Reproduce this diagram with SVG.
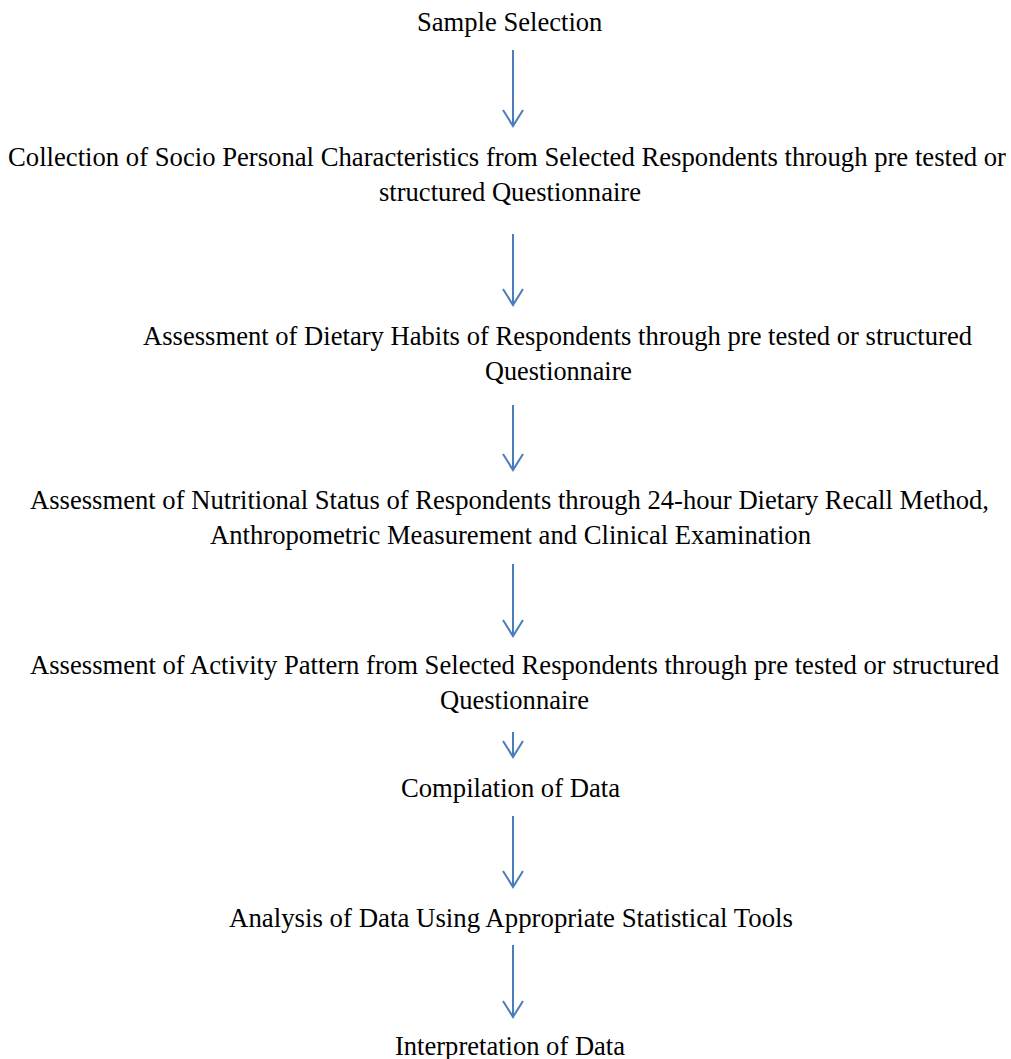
<svg xmlns="http://www.w3.org/2000/svg" width="1011" height="1059" viewBox="0 0 1011 1059">
<defs>
<style>
text { font-family: "Liberation Serif", "Times New Roman", serif; font-size: 26.6px; fill: #000; }
.c line, .c path { stroke: #4a7ebb; stroke-width: 2; fill: none; }
</style>
</defs>
<rect width="1011" height="1059" fill="#fff"/>
<g id="n1"><text x="417" y="31">Sample Selection</text></g>
<g id="n2">
<text x="8" y="166" textLength="998" lengthAdjust="spacingAndGlyphs">Collection of Socio Personal Characteristics from Selected Respondents through pre tested or</text>
<text x="379" y="201" textLength="262" lengthAdjust="spacingAndGlyphs">structured Questionnaire</text>
</g>
<g id="n3">
<text x="143" y="345" textLength="829" lengthAdjust="spacingAndGlyphs">Assessment of Dietary Habits of Respondents through pre tested or structured</text>
<text x="485" y="380" textLength="147" lengthAdjust="spacingAndGlyphs">Questionnaire</text>
</g>
<g id="n4">
<text x="30" y="509" textLength="959" lengthAdjust="spacingAndGlyphs">Assessment of Nutritional Status of Respondents through 24-hour Dietary Recall Method,</text>
<text x="210" y="544" textLength="601" lengthAdjust="spacingAndGlyphs">Anthropometric Measurement and Clinical Examination</text>
</g>
<g id="n5">
<text x="30" y="674" textLength="969" lengthAdjust="spacingAndGlyphs">Assessment of Activity Pattern from Selected Respondents through pre tested or structured</text>
<text x="440" y="709" textLength="149" lengthAdjust="spacingAndGlyphs">Questionnaire</text>
</g>
<g id="n6"><text x="401" y="797" textLength="219" lengthAdjust="spacingAndGlyphs">Compilation of Data</text></g>
<g id="n7"><text x="229" y="927" textLength="564" lengthAdjust="spacingAndGlyphs">Analysis of Data Using Appropriate Statistical Tools</text></g>
<g id="n8"><text x="395" y="1055" textLength="230" lengthAdjust="spacingAndGlyphs">Interpretation of Data</text></g>
<g id="connectors" class="c">
<line x1="513" y1="50" x2="513" y2="126"/><path d="M503,110 L513,126 L523,110"/>
<line x1="513" y1="234" x2="513" y2="305"/><path d="M503,289 L513,305 L523,289"/>
<line x1="513" y1="405" x2="513" y2="470"/><path d="M503,454 L513,470 L523,454"/>
<line x1="513" y1="564" x2="513" y2="636"/><path d="M503,620 L513,636 L523,620"/>
<line x1="513" y1="732" x2="513" y2="757"/><path d="M503,741 L513,757 L523,741"/>
<line x1="513" y1="816" x2="513" y2="887"/><path d="M503,871 L513,887 L523,871"/>
<line x1="513" y1="945" x2="513" y2="1017"/><path d="M503,1001 L513,1017 L523,1001"/>
</g>
</svg>
